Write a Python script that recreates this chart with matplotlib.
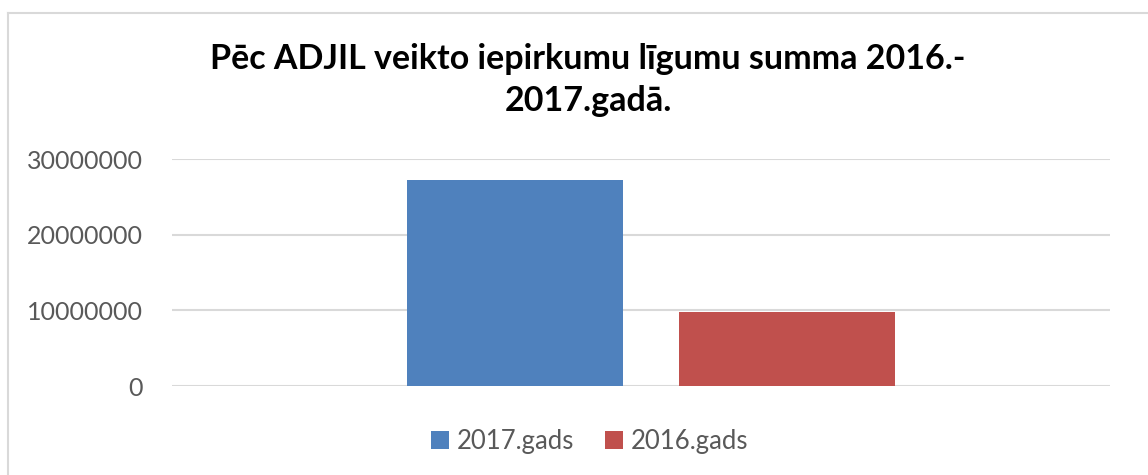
import matplotlib
matplotlib.use("Agg")
import matplotlib.pyplot as plt
from matplotlib.lines import Line2D

series = ["2017.gads", "2016.gads"]
values = [27200000, 9780000]
colors = ["#4f81bd", "#c0504d"]
yticks = [0, 10000000, 20000000, 30000000]
title = "Pēc ADJIL veikto iepirkumu līgumu summa 2016.-\n2017.gadā."

W, H = 1148, 475
fig = plt.figure(figsize=(W / 100, H / 100), dpi=100)
fig.patch.set_facecolor("white")

# outer border (top and left visible)
border_col = "#d9d9d9"
fig.add_artist(Line2D([8 / W, 1.0], [1 - 13 / H, 1 - 13 / H], transform=fig.transFigure, color=border_col, lw=1.5))
fig.add_artist(Line2D([8 / W, 8 / W], [0, 1 - 13 / H], transform=fig.transFigure, color=border_col, lw=1.5))

ax = fig.add_axes([172 / W, 89 / H, 938 / W, 227 / H])
offsets = [-0.29, 0.29]
width = 0.46
for s, v, c, o in zip(series, values, colors, offsets):
    ax.bar(o, v, width=width, color=c, label=s, zorder=3)

ax.set_xlim(-1.021, 0.979)
ax.set_ylim(0, 30000000)
ax.set_yticks(yticks)
ax.set_yticklabels([str(t) for t in yticks])
ax.set_xticks([])
for sp in ax.spines.values():
    sp.set_visible(False)
ax.grid(axis="y", color="#d9d9d9", lw=1.5, zorder=0)
ax.set_axisbelow(True)
ax.tick_params(axis="y", length=0, pad=21, labelsize=18, labelcolor="#595959")
for lab in ax.get_yticklabels():
    lab.set_fontfamily("Lato")

fig.text(588 / W, 1 - 80 / H, title, ha="center", va="center", fontsize=24.5,
         fontweight="bold", family="Lato", linespacing=1.35, color="black")

handles, labels = ax.get_legend_handles_labels()
leg = fig.legend(handles, labels, loc="center", bbox_to_anchor=(590 / W, 1 - 441 / H), ncol=2,
                 frameon=False, prop={"family": "Lato", "size": 18.5}, handlelength=0.7,
                 handleheight=0.7, handletextpad=0.3, columnspacing=1.2)
for t in leg.get_texts():
    t.set_color("#595959")

fig.savefig("out.png", dpi=100, facecolor="white")
